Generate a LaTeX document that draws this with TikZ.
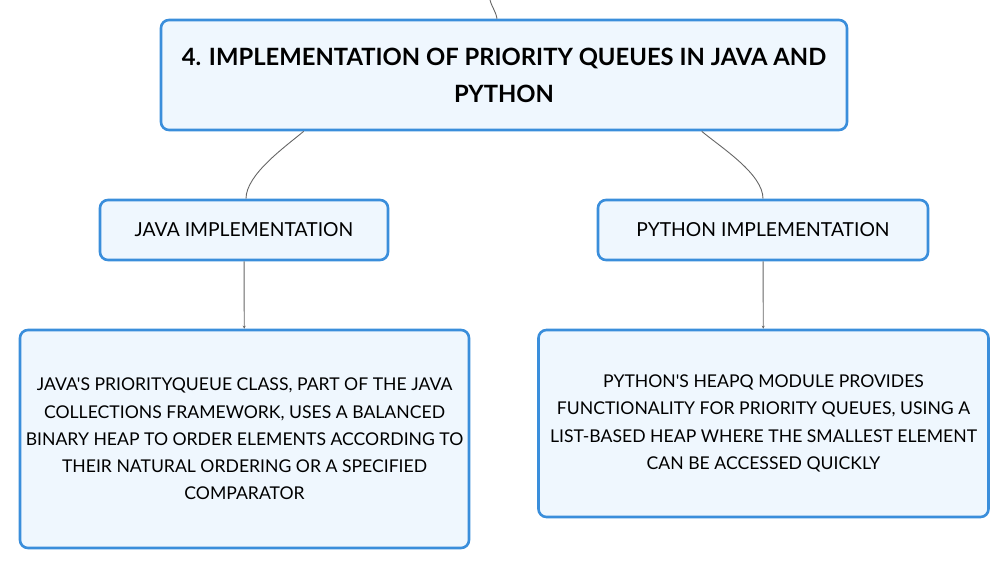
\documentclass[tikz,border=0pt]{standalone}
\usepackage{fontspec}
\setmainfont{Lato}[Ligatures=TeXOff]
\usetikzlibrary{calc,arrows.meta}
\definecolor{boxline}{HTML}{3A8EDB}
\definecolor{boxfill}{HTML}{EFF7FE}
\definecolor{linkgray}{HTML}{666666}
\tikzset{
  topicbox/.style={draw=boxline, fill=boxfill, line width=2.6pt, rounded corners=8pt, align=center, inner sep=0pt},
  link/.style={draw=linkgray, line width=0.9pt},
  linkarrow/.style={link, -{Stealth[length=3pt,width=3pt]}}
}
\begin{document}
\begin{tikzpicture}[x=1pt,y=-1pt]
			%%%%% START %%%%%
			\useasboundingbox (0,0) rectangle (1008,569);
			
			\node[topicbox, minimum width=686pt, minimum height=110pt, font=\fontsize{23.8}{37}\selectfont\bfseries] (title) at (504,75)
				{4. IMPLEMENTATION OF PRIORITY QUEUES IN JAVA AND\\PYTHON};
			
			\node[topicbox, minimum width=288pt, minimum height=60pt, font=\fontsize{19.3}{27}\selectfont] (javaimpl) at (244,230) {JAVA IMPLEMENTATION};
			\node[topicbox, minimum width=330pt, minimum height=60pt, font=\fontsize{19.3}{27}\selectfont] (pyimpl) at (763,230) {PYTHON IMPLEMENTATION};
			
			\node[topicbox, minimum width=449pt, minimum height=218pt, font=\fontsize{17.6}{27.3}\selectfont] (javadesc) at (244.5,439)
				{JAVA'S PRIORITYQUEUE CLASS, PART OF THE JAVA\\COLLECTIONS FRAMEWORK, USES A BALANCED\\BINARY HEAP TO ORDER ELEMENTS ACCORDING TO\\THEIR NATURAL ORDERING OR A SPECIFIED\\COMPARATOR};
			\node[topicbox, minimum width=450pt, minimum height=187pt, font=\fontsize{17.6}{27.3}\selectfont] (pydesc) at (763.5,423.5)
				{PYTHON'S HEAPQ MODULE PROVIDES\\FUNCTIONALITY FOR PRIORITY QUEUES, USING A\\LIST-BASED HEAP WHERE THE SMALLEST ELEMENT\\CAN BE ACCESSED QUICKLY};
			
			\coordinate (topin) at (490,0);
			\draw[link] (topin) to[out=-75,in=100] ($(title.north)+(-7,0)$);
			
			\draw[link] ($(title.south west)+(144,0)$) to[out=-140,in=90,looseness=0.7] ($(javaimpl.north)+(2,0)$);
			\draw[link] ($(title.south west)+(542,0)$) to[out=-40,in=90,looseness=0.7] (pyimpl.north);
			
			\draw[linkarrow] (javaimpl) -- (javadesc);
			\draw[linkarrow] (pyimpl) -- (pydesc);
			%%%%% END %%%%%
\end{tikzpicture}
\end{document}
